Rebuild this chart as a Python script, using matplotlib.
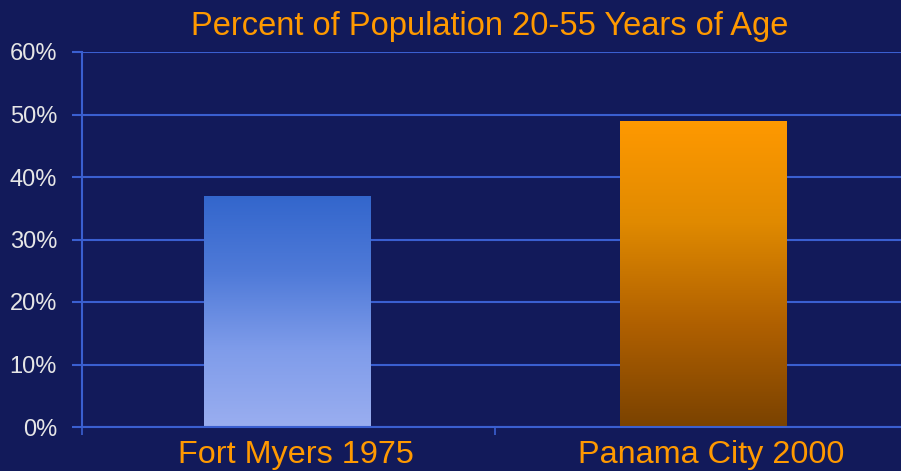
import matplotlib
matplotlib.use("Agg")
import matplotlib.pyplot as plt
import matplotlib.transforms as mtransforms
import numpy as np
from matplotlib.colors import LinearSegmentedColormap
from matplotlib.ticker import FixedLocator, FuncFormatter

categories = ["Fort Myers 1975", "Panama City 2000"]
values = [37, 49]
yticks = [0, 10, 20, 30, 40, 50, 60]
title = "Percent of Population 20-55 Years of Age"

bg = "#121a5a"
grid_c = "#3a5fd0"
orange = "#ff9900"

plt.rcParams['font.family'] = ['Liberation Sans', 'DejaVu Sans']

fig = plt.figure(figsize=(9.01, 4.71), dpi=100, facecolor=bg)
ax = fig.add_axes([82/901, 44/471, 1 - 82/901, (427-52)/471])
ax.set_facecolor(bg)

x = np.arange(len(categories))
bars = ax.bar(x, values, width=0.40, color="none", edgecolor="none", zorder=3)

grads = [
    LinearSegmentedColormap.from_list("b", ["#9aaef0", "#7f9cea", "#4f7ad8", "#3366cc"]),
    LinearSegmentedColormap.from_list("o", ["#7a4200", "#b06000", "#e08a00", "#ff9900"]),
]
grad = np.linspace(0, 1, 256).reshape(-1, 1)
for rect, cmap in zip(bars, grads):
    x0, y0 = rect.get_x(), rect.get_y()
    w, h = rect.get_width(), rect.get_height()
    im = ax.imshow(grad, cmap=cmap, origin="lower", aspect="auto",
                   extent=[x0, x0 + w, y0, y0 + h], zorder=3, interpolation="bilinear")
    im.set_clip_path(rect)

ax.set_xlim(-0.4946, 1.476)
ax.set_ylim(0, 60)

ax.set_yticks(yticks)
ax.yaxis.set_major_formatter(FuncFormatter(lambda v, p: f"{int(v)}%"))
ax.grid(axis="y", color=grid_c, linewidth=1.5, zorder=1)
ax.tick_params(axis="y", colors=grid_c, length=7, width=1.5, labelcolor="#e6e6e6",
               labelsize=17, pad=11)

ax.set_xticks(x)
ax.set_xticklabels(categories)
ax.tick_params(axis="x", which="major", length=0, labelcolor=orange, labelsize=23.3, pad=9)
ax.xaxis.set_minor_locator(FixedLocator([-0.4946, 0.5]))
ax.tick_params(axis="x", which="minor", length=6, width=1.2, color=grid_c)

offset = mtransforms.ScaledTranslation(8/100, 0, fig.dpi_scale_trans)
for lab in ax.get_xticklabels():
    lab.set_transform(lab.get_transform() + offset)

for s in ["top", "right"]:
    ax.spines[s].set_visible(False)
for s in ["left", "bottom"]:
    ax.spines[s].set_color(grid_c)
    ax.spines[s].set_linewidth(1.5)
    ax.spines[s].set_zorder(4)

fig.text(0.543, 1 - 27/471, title, color=orange, fontsize=23.5, ha="center", va="center")

fig.savefig("out.png", dpi=100, facecolor=bg)
